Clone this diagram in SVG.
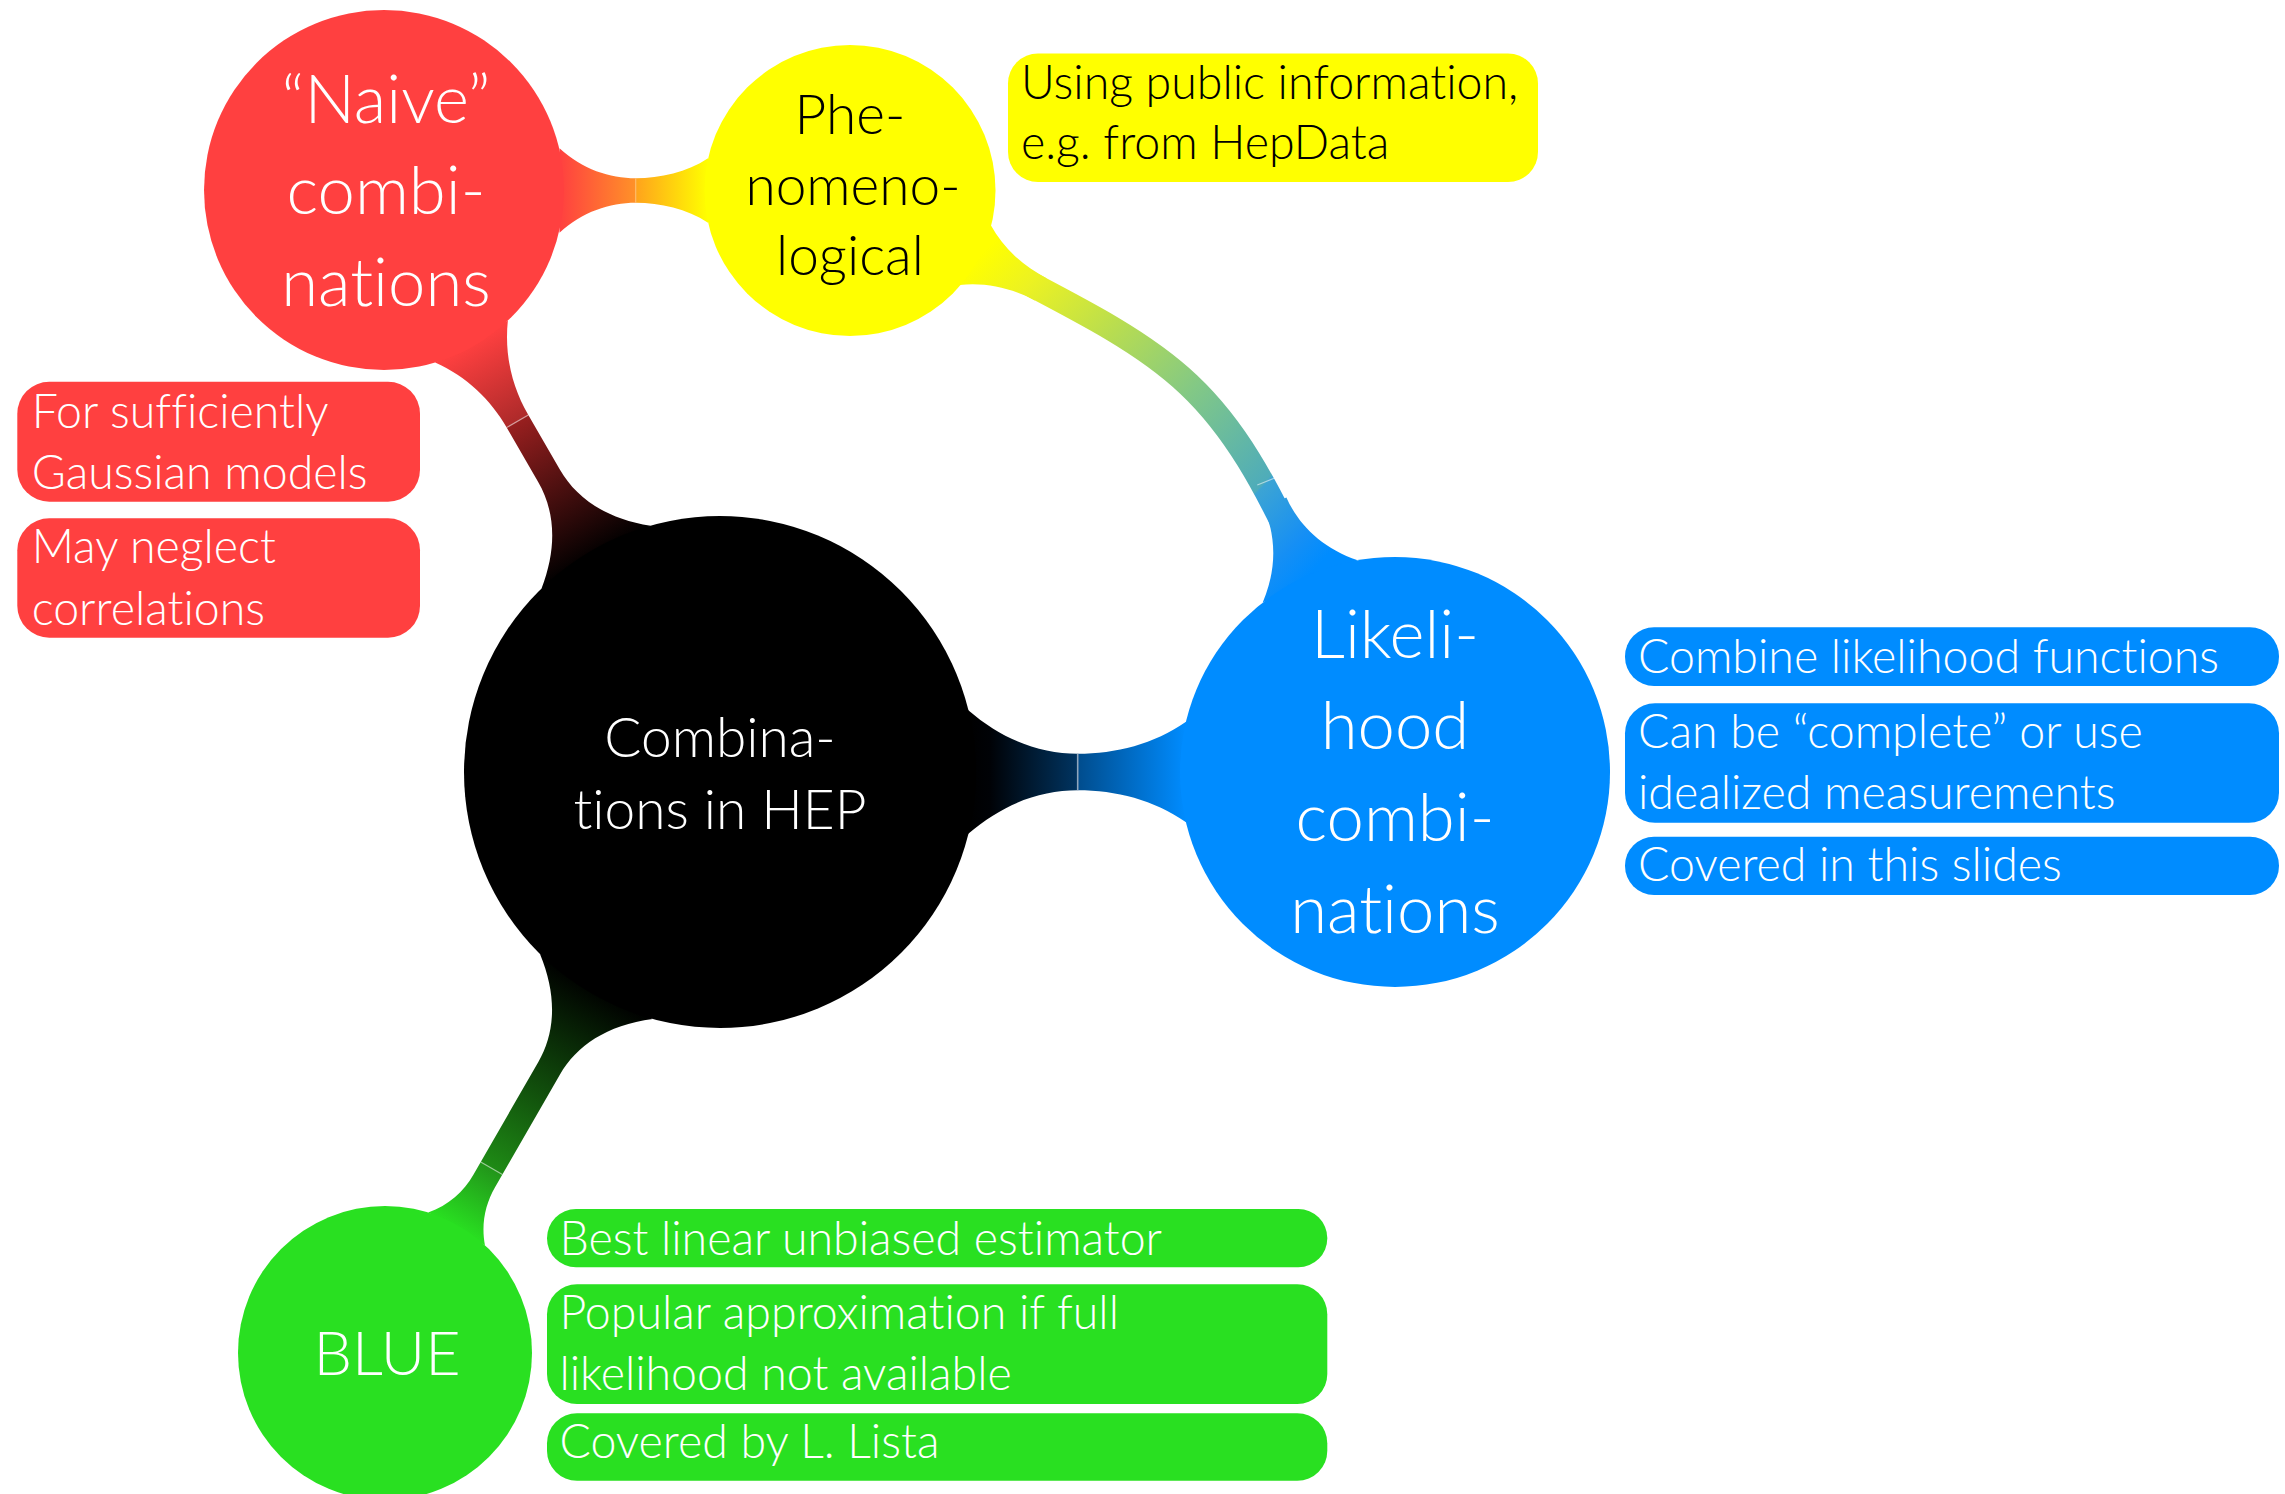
<svg xmlns="http://www.w3.org/2000/svg" width="2285" height="1494" viewBox="0 0 2285 1494">
<style>
.t{font-family:Lato,'Open Sans','Liberation Sans',sans-serif;font-weight:300;font-variant-ligatures:none;font-feature-settings:"liga" 0,"dlig" 0}
.c{text-anchor:middle}
.big{font-size:67px}
.ph{font-size:55px}
.mid{font-size:55px}
.bl{font-size:61px}
.leaf{font-size:46.5px}
.w{fill:#ffffff}
.k{fill:#000000}
.seam{stroke:#ffffff;stroke-opacity:0.55;stroke-width:1.2;fill:none}
.red{fill:#ff4040}
.yel{fill:#ffff00}
.blu{fill:#008cff}
.grn{fill:#29e021}
</style>
<defs>
<linearGradient id="gBR" gradientUnits="userSpaceOnUse" x1="248" y1="0" x2="497" y2="0">
<stop offset="0" stop-color="#000000"/><stop offset="0.628" stop-color="#981f1f"/><stop offset="0.634" stop-color="#ae2a2a"/><stop offset="1" stop-color="#ff4040"/>
</linearGradient>
<linearGradient id="gBB" gradientUnits="userSpaceOnUse" x1="248" y1="0" x2="466" y2="0">
<stop offset="0" stop-color="#000000"/><stop offset="0.1" stop-color="#000206"/><stop offset="0.503" stop-color="#003461"/><stop offset="0.509" stop-color="#004d8e"/><stop offset="1" stop-color="#008cff"/>
</linearGradient>
<linearGradient id="gBG" gradientUnits="userSpaceOnUse" x1="247.6" y1="0" x2="527.4" y2="0">
<stop offset="0" stop-color="#000000"/><stop offset="0.747" stop-color="#1e8a15"/><stop offset="0.753" stop-color="#22961a"/><stop offset="1" stop-color="#29e021"/>
</linearGradient>
<linearGradient id="gRY" gradientUnits="userSpaceOnUse" x1="175.5" y1="0" x2="324" y2="0">
<stop offset="0" stop-color="#ff4040"/><stop offset="0.51" stop-color="#ff9128"/><stop offset="0.52" stop-color="#ffa41c"/><stop offset="1" stop-color="#ffff00"/>
</linearGradient>
<linearGradient id="gYB" gradientUnits="userSpaceOnUse" x1="978.6" y1="257" x2="1307.6" y2="575.6">
<stop offset="0" stop-color="#ffff00"/><stop offset="0.12" stop-color="#ecf222"/><stop offset="0.33" stop-color="#b6dc52"/><stop offset="0.54" stop-color="#82c886"/><stop offset="0.79" stop-color="#4eacba"/><stop offset="0.795" stop-color="#3ca4d4"/><stop offset="0.93" stop-color="#168ff4"/><stop offset="1" stop-color="#008cff"/>
</linearGradient>
</defs>
<rect x="0" y="0" width="2285" height="1494" fill="#ffffff"/>
<g id="connectors">
<g id="conn-hep-naive" transform="translate(720 772) rotate(-120)">
<path d="M248,-63 C276.5,-27.7 309,-12.5 342,-12.5 L405,-12.5 C436.9,-12.5 468.7,-21.4 497,-42 L497,42 C468.7,21.4 436.9,12.5 405,12.5 L342,12.5 C309,12.5 276.5,27.7 248,63 Z" fill="url(#gBR)"/>
<line class="seam" x1="405" y1="-12.5" x2="405" y2="12.5"/>
</g>
<g id="conn-hep-likelihood" transform="translate(720 772)">
<path d="M248,-62 C283.5,-31.4 320.6,-18.3 357.7,-18.3 C395.9,-18.3 434,-27.9 466,-50.3 L466,50.3 C434,27.9 395.9,18.3 357.7,18.3 C320.6,18.3 283.5,31.4 248,62 Z" fill="url(#gBB)"/>
<line class="seam" x1="357.7" y1="-18.3" x2="357.7" y2="18.3" style="stroke:#9fb3c8;stroke-opacity:0.9;stroke-width:1.6"/>
</g>
<g id="conn-hep-blue" transform="translate(720 772) rotate(119.97)">
<path d="M247.6,-65 C275.9,-28.2 309,-12.5 342,-12.5 L472,-12.5 C491.4,-12.5 510.8,-18.6 527.4,-32.8 L527.4,32.8 C510.8,18.6 491.4,12.5 472,12.5 L342,12.5 C309,12.5 275.9,28.2 247.6,65 Z" fill="url(#gBG)"/>
<line class="seam" x1="457.3" y1="-12.5" x2="457.3" y2="12.5"/>
</g>
<g id="conn-naive-pheno" transform="translate(384 190.5)">
<path d="M175.5,-42.2 C198.2,-21.2 225.8,-12.2 251.7,-12.2 C276.2,-12.2 303,-18.2 324,-32.2 L324,32.2 C303,18.2 276.2,12.2 251.7,12.2 C225.8,12.2 198.2,21.2 175.5,42.2 Z" fill="url(#gRY)"/>
<line class="seam" x1="251.7" y1="-12.2" x2="251.7" y2="12.2" style="stroke:#ffc070;stroke-opacity:0.9"/>
</g>
<g id="conn-pheno-likelihood">
<path d="M978.6,257 C1173.7,358.6 1218.1,374.6 1307.6,575.6" fill="none" stroke="url(#gYB)" stroke-width="25"/>
<path d="M990.7,225.1 C1003.5,248.5 1023.5,266.2 1046.5,278.2 L1034.9,300.4 C1011.9,288.4 986.1,282.1 959.5,285.1 Z" fill="url(#gYB)"/>
<path d="M1357.7,560.3 C1321.8,547.9 1298.7,525 1286.4,497.4 L1263.6,507.6 C1275.9,535.2 1277.4,567.7 1262.7,602.5 Z" fill="url(#gYB)"/>
<line class="seam" x1="1257.3" y1="485" x2="1280" y2="476"/>
</g>
</g>
<g id="node-hep">
<circle cx="720" cy="772" r="256" fill="#000000"/>
<text class="t c mid w"><tspan x="720" y="757">Combina-</tspan><tspan x="720" y="829">tions in HEP</tspan></text>
</g>
<g id="node-naive">
<circle cx="384" cy="190" r="180" class="red"/>
<text class="t c big w"><tspan x="386" y="123">“Naive”</tspan><tspan x="386" y="214">combi-</tspan><tspan x="386" y="306">nations</tspan></text>
</g>
<g id="node-pheno">
<circle cx="850" cy="190.5" r="145.5" class="yel"/>
<text class="t c ph k"><tspan x="850" y="134">Phe-</tspan><tspan x="853" y="205">nomeno-</tspan><tspan x="850" y="275">logical</tspan></text>
</g>
<g id="node-likelihood">
<circle cx="1395" cy="772" r="215" class="blu"/>
<text class="t c big w"><tspan x="1395" y="658">Likeli-</tspan><tspan x="1395" y="749">hood</tspan><tspan x="1395" y="841">combi-</tspan><tspan x="1395" y="933">nations</tspan></text>
</g>
<g id="node-blue">
<circle cx="385" cy="1353" r="147" class="grn"/>
<text class="t c bl w" x="387" y="1375">BLUE</text>
</g>
<g id="leaf-pheno">
<rect x="1008" y="53.5" width="530" height="128.5" rx="30" class="yel"/>
<text class="t leaf k"><tspan x="1021" y="99.3">Using public information,</tspan><tspan x="1021" y="159.3">e.g. from HepData</tspan></text>
</g>
<g id="leaf-naive-1">
<rect x="17.3" y="381.7" width="402.7" height="120" rx="32" class="red"/>
<text class="t leaf w"><tspan x="31.7" y="428.3">For sufficiently</tspan><tspan x="31.7" y="489">Gaussian models</tspan></text>
</g>
<g id="leaf-naive-2">
<rect x="17.3" y="518.3" width="402.7" height="119.4" rx="32" class="red"/>
<text class="t leaf w"><tspan x="31.7" y="563.3">May neglect</tspan><tspan x="31.7" y="625">correlations</tspan></text>
</g>
<g id="leaf-like-1">
<rect x="1625" y="627.3" width="654" height="58.7" rx="29" class="blu"/>
<text class="t leaf w" x="1638" y="672.7">Combine likelihood functions</text>
</g>
<g id="leaf-like-2">
<rect x="1625" y="703.3" width="654" height="119.4" rx="30" class="blu"/>
<text class="t leaf w"><tspan x="1638" y="748.3">Can be “complete” or use</tspan><tspan x="1638" y="809.3">idealized measurements</tspan></text>
</g>
<g id="leaf-like-3">
<rect x="1625" y="836.7" width="654" height="58.3" rx="29" class="blu"/>
<text class="t leaf w" x="1638" y="880.7">Covered in this slides</text>
</g>
<g id="leaf-blue-1">
<rect x="547" y="1209" width="780.3" height="58.3" rx="29" class="grn"/>
<text class="t leaf w" x="559.4" y="1255">Best linear unbiased estimator</text>
</g>
<g id="leaf-blue-2">
<rect x="547" y="1284.3" width="780.3" height="119.7" rx="30" class="grn"/>
<text class="t leaf w"><tspan x="559.4" y="1329">Popular approximation if full</tspan><tspan x="559.4" y="1390">likelihood not available</tspan></text>
</g>
<g id="leaf-blue-3">
<rect x="547" y="1413.3" width="780.3" height="67.4" rx="30" class="grn"/>
<text class="t leaf w" x="559.4" y="1458.3">Covered by L. Lista</text>
</g>
</svg>
